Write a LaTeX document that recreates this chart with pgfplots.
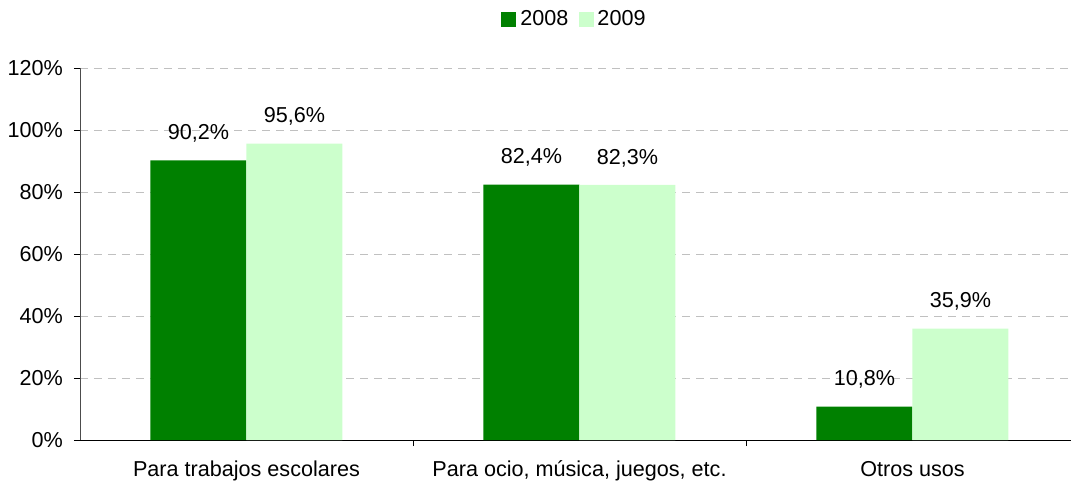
\documentclass[border=0pt]{standalone}
\usepackage{fontspec}
\setmainfont{Liberation Sans}
\usepackage{pgfplots}
\pgfplotsset{compat=1.18}
\definecolor{verde08}{HTML}{008000}
\definecolor{verde09}{HTML}{CCFFCC}
\definecolor{rejilla}{HTML}{C0C0C0}
\pgfplotsset{/pgf/number format/assume math mode=true}

\begin{document}
\begin{tikzpicture}[font=\fontsize{10.8}{13}\selectfont]
\useasboundingbox (-40pt,-22pt) rectangle (495.5pt,220pt);
\begin{axis}[
    scale only axis,
    width=495.5pt, height=186pt,
    ybar=0pt, bar width=48pt,
    xmin=-0.5, xmax=2.476,
    ymin=0, ymax=120,
    ytick={0,20,...,120},
    yticklabel={\pgfmathprintnumber{\tick}\%},
    yticklabel style={xshift=-2pt},
    xtick={0,1,2},
    xticklabels={Para trabajos escolares, {Para ocio, música, juegos, etc.}, Otros usos},
    xticklabel style={yshift=-4pt},
    minor xtick={0.5,1.5},
    major x tick style={draw=none},
    tick align=outside,
    major tick length=3pt, minor tick length=3pt,
    tick style={black, thin},
    axis x line*=bottom, axis y line*=left,
    axis line style={-},
    y axis line style={black!70},
    ymajorgrids,
    grid style={rejilla, dash pattern=on 4pt off 3pt},
    nodes near coords={\pgfmathprintnumber[fixed,fixed zerofill,precision=1,use comma]{\pgfplotspointmeta}\%},
    every node near coord/.append style={yshift=5.5pt},
    legend style={at={(0.5,1)}, anchor=center, yshift=24.5pt, draw=none,
        legend columns=2,
        /tikz/every even column/.append style={column sep=3pt}},
    legend image code/.code={\fill[#1] (0pt,-3.75pt) rectangle (7.5pt,3.75pt);},
]
\addplot[draw=none, fill=verde08] coordinates {(0,90.2) (1,82.4) (2,10.8)};
\addplot[draw=none, fill=verde09] coordinates {(0,95.6) (1,82.3) (2,35.9)};
\legend{2008, 2009}
\end{axis}
\end{tikzpicture}
\end{document}
